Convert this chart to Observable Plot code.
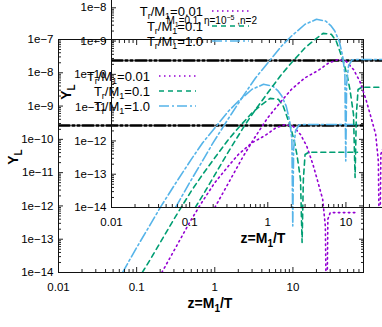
<!DOCTYPE html>
<html><head><meta charset="utf-8">
<script src="https://cdn.jsdelivr.net/npm/d3@7"></script>
<script src="https://cdn.jsdelivr.net/npm/@observablehq/plot@0.6"></script>
<style>
html,body{margin:0;padding:0;overflow:hidden;background:#fff;width:382px;height:327px;}
#wrap{position:relative;width:382px;height:327px;overflow:hidden;}
#wrap svg{position:absolute;max-width:none;}
</style></head><body><div id="wrap"></div>
<script>
// ---- data ----
const seriesValues = ["0.01", "0.1", "1.0"];   // T_r/M_1

const zPurple = [0.21,0.3,0.49,0.7,1,1.5,2,3,4.4,6,8,10,12.5,15,18,21,24,26,27,28,30,40,55,67];
const yPurple = [1e-14,4.5e-14,3.6e-13,1.4e-12,5e-12,1.6e-11,3.5e-11,7.9e-11,1.3e-10,2.2e-10,2.8e-10,2.5e-10,1.4e-10,6.3e-11,1.8e-11,5e-12,1.6e-12,2.5e-13,1e-16,4e-13,6.3e-13,6.3e-13,6.3e-13,6.3e-13];

const zGreen = [0.118,0.15,0.2,0.3,0.5,0.7,1,1.5,2,3,4,5.1,6.5,7.5,8.3,9.5,10.5,11.3,12.5,13.1,13.6,14.3,16,20,30,45,67];
const yGreen = [1e-14,2.5e-14,7.9e-14,4e-13,2.8e-12,8.9e-12,2.8e-11,1e-10,2.2e-10,6.3e-10,1.1e-9,1.7e-9,1.6e-9,1e-9,5.2e-10,2e-10,8e-11,3.3e-11,6.3e-12,8e-14,6.3e-12,3.5e-11,4.1e-11,4.1e-11,4.1e-11,4.1e-11,4.1e-11];

const zCyan = [0.066,0.1,0.15,0.2,0.3,0.5,0.7,1,1.5,2,3,4.2,5.5,6.5,7.2,8.2,9.1,9.7,9.95,10.2,10.8,12,15,20,30,45,67];
const yCyan = [1e-14,5.6e-14,2.8e-13,8.9e-13,4e-12,2.5e-11,7.9e-11,2.2e-10,7.1e-10,1.4e-9,3.2e-9,4.5e-9,4e-9,2.8e-9,2e-9,1e-9,3.5e-10,1e-10,2.5e-13,5e-11,1.8e-10,2.75e-10,2.8e-10,2.8e-10,2.8e-10,2.8e-10,2.8e-10];

const zObs = [0.01, 80];
const yObs = [2.6e-10, 2.6e-10];

const xTickVals = [0.01, 0.1, 1, 10];
const xTickLabels = ["0.01", "0.1", "1", "10"];
const yTickVals = [1e-14,1e-13,1e-12,1e-11,1e-10,1e-9,1e-8,1e-7];
const yTickLabels = ["1e−14","1e−13","1e−12","1e−11","1e−10","1e−9","1e−8","1e−7"];

// ---- styling ----
const colors = ["#9400D3", "#009E73", "#56B4E9"];
const dashes = ["1.5,3.5", "5,4", "10,3,2,3"];
const FONT = "Liberation Sans, Arial, Helvetica, sans-serif";

const curves = [
  {z: zPurple, y: yPurple},
  {z: zGreen, y: yGreen},
  {z: zCyan, y: yCyan}
];
const rowsFor = (c) => c.z.map((z, i) => ({z, y: c.y[i]}));

function minorTicks(lo, hi) {
  const out = [];
  for (let e = Math.floor(Math.log10(lo)); e <= Math.ceil(Math.log10(hi)); e++)
    for (let m = 2; m <= 9; m++) { const v = m * Math.pow(10, e); if (v > lo && v < hi) out.push(v); }
  return out;
}
const xMinor = minorTicks(0.01, 80);
const yMinor = minorTicks(1e-14, 1e-7);
const xLab = (d) => xTickLabels[xTickVals.indexOf(d)];
const yLab = (d) => yTickLabels[yTickVals.indexOf(d)];

function makePlot(extraLabel) {
  const marks = [
    Plot.line(rowsFor({z: zObs, y: yObs}), {x: "z", y: "y", stroke: "#000", strokeWidth: 2.6, strokeDasharray: "11,3,2,3,2,3", clip: true}),
  ];
  curves.forEach((c, i) => {
    marks.push(Plot.line(rowsFor(c), {x: "z", y: "y", stroke: colors[i], strokeWidth: 1.6, strokeDasharray: dashes[i], clip: true}));
  });
  for (const a of ["bottom", "top"]) {
    marks.push(Plot.axisX(xTickVals, {anchor: a, tickSize: -5, text: null, label: null, stroke: "#222"}));
    marks.push(Plot.axisX(xMinor, {anchor: a, tickSize: -3, text: null, label: null, stroke: "#222"}));
  }
  for (const a of ["left", "right"]) {
    marks.push(Plot.axisY(yTickVals, {anchor: a, tickSize: -5, text: null, label: null, stroke: "#222"}));
    marks.push(Plot.axisY(yMinor, {anchor: a, tickSize: -3, text: null, label: null, stroke: "#222"}));
  }
  marks.push(Plot.text(xTickVals, {x: d => d, frameAnchor: "bottom", dy: 15, text: xLab, fontSize: 11.5, fill: "#000", lineAnchor: "middle"}));
  marks.push(Plot.text(yTickVals, {y: d => d, frameAnchor: "left", dx: -5, text: yLab, textAnchor: "end", fontSize: 11.5, fill: "#000"}));
  marks.push(Plot.frame({stroke: "#111", strokeWidth: 1}));

  const svg = Plot.plot({
    width: 382, height: 327,
    marginLeft: 58, marginRight: 19, marginTop: 39, marginBottom: 55,
    style: {background: "transparent", fontFamily: FONT, overflow: "visible"},
    x: {type: "log", domain: [0.01, 80], axis: null},
    y: {type: "log", domain: [1e-14, 1e-7], axis: null},
    marks
  });

  const s = d3.select(svg);
  const g = s.append("g").attr("font-family", FONT);
  // legend
  const rowY = [76, 91, 106];
  seriesValues.forEach((v, i) => {
    const t = g.append("text").attr("x", 150).attr("y", rowY[i] + 5).attr("text-anchor", "end").attr("font-size", 13).attr("fill", "#000");
    t.append("tspan").text("T");
    t.append("tspan").attr("dy", 3).attr("font-size", 9).text("r");
    t.append("tspan").attr("dy", -3).text("/M");
    t.append("tspan").attr("dy", 3).attr("font-size", 9).text("1");
    t.append("tspan").attr("dy", -3).text("=" + v);
    g.append("line").attr("x1", 159).attr("x2", 196).attr("y1", rowY[i]).attr("y2", rowY[i])
      .attr("stroke", colors[i]).attr("stroke-width", 1.6).attr("stroke-dasharray", dashes[i]);
  });
  // axis labels
  const xl = g.append("text").attr("x", 210).attr("y", 308).attr("text-anchor", "middle").attr("font-size", 14).attr("font-weight", "bold");
  xl.append("tspan").text("z=M");
  xl.append("tspan").attr("dy", 4).attr("font-size", 10).text("1");
  xl.append("tspan").attr("dy", -4).text("/T");
  const yl = g.append("text").attr("transform", "translate(18,157) rotate(-90)").attr("text-anchor", "middle").attr("font-size", 14).attr("font-weight", "bold");
  yl.append("tspan").text("Y");
  yl.append("tspan").attr("dy", 4).attr("font-size", 10).text("L");
  if (extraLabel) {
    const el = g.append("text").attr("x", 204).attr("y", 89).attr("text-anchor", "end").attr("font-size", 10).attr("fill", "#000");
    el.append("tspan").text("M");
    el.append("tspan").attr("dy", 3).attr("font-size", 7).text("1");
    el.append("tspan").attr("dy", -3).text("=0.1, η=10");
    el.append("tspan").attr("dy", -4).attr("font-size", 7).text("−5");
    el.append("tspan").attr("dy", 4).text(" ,n=2");
  }
  return svg;
}

const wrap = document.getElementById("wrap");
const main = makePlot(false);
main.style.left = "0px"; main.style.top = "0px";
wrap.appendChild(main);
const inset = makePlot(true);
inset.style.left = "53px"; inset.style.top = "-65px";
wrap.appendChild(inset);
</script></body></html>
